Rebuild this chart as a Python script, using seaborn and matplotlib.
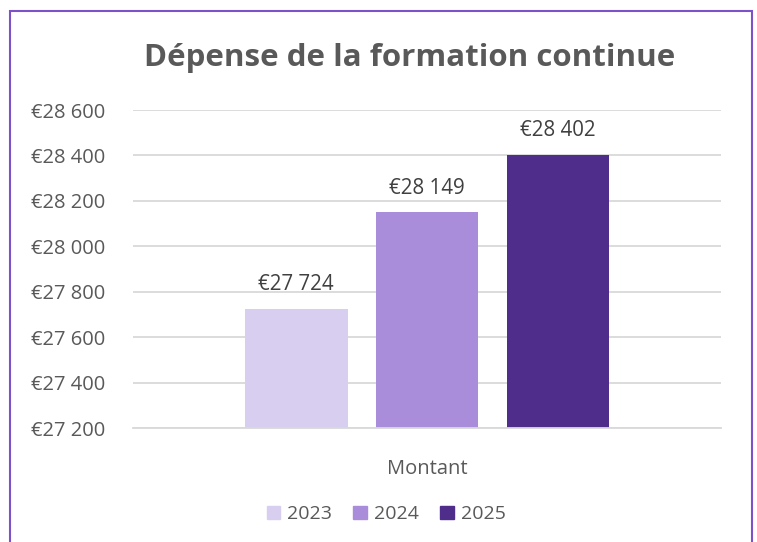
import pandas as pd
import numpy as np
import matplotlib
matplotlib.use('Agg')
import matplotlib.pyplot as plt
import seaborn as sns
from matplotlib.patches import Rectangle

# data
categories = ['Montant']
years = ['2023', '2024', '2025']
amounts = [27724, 28149, 28402]
bar_colors = ['#D8CEEF', '#A98DDA', '#4F2D8B']
yticks = [27200, 27400, 27600, 27800, 28000, 28200, 28400, 28600]

df = pd.DataFrame({'cat': categories * len(years), 'year': years, 'value': amounts})

sns.set_theme(style='white')
plt.rcParams['font.family'] = ['Open Sans', 'DejaVu Sans']
txt = '#595959'

def euro(v):
    return '€' + f'{v:,.0f}'.replace(',', ' ')

fig = plt.figure(figsize=(7.57, 5.42), dpi=100)
ax = fig.add_axes([0.1757, 0.2103, 0.7768, 0.5867])

sns.barplot(data=df, x='cat', y='value', hue='year', palette=bar_colors,
            width=0.668, gap=0.214, ax=ax, legend=True, saturation=1,
            linewidth=0, edgecolor='none')

ax.set_ylim(27200, 28600)
ax.set_xlim(-0.5, 0.5)
ax.set_yticks(yticks)
ax.set_yticklabels([euro(v) for v in yticks], color=txt, fontsize=14.5)
ax.yaxis.grid(True, color='#D9D9D9', linewidth=1.3)
ax.set_axisbelow(True)
for s in ['top', 'right', 'left']:
    ax.spines[s].set_visible(False)
ax.spines['bottom'].set_color('#D9D9D9')
ax.spines['bottom'].set_linewidth(1.3)
ax.tick_params(axis='y', length=0, pad=20)
ax.tick_params(axis='x', which='major', length=0, pad=22, labelsize=14.5, labelcolor=txt)
ax.set_xticks([-0.5, 0.5], minor=True)
ax.tick_params(axis='x', which='minor', length=7, color='#D9D9D9', width=1.3)
ax.set_xlabel('')
ax.set_ylabel('')

for cont in ax.containers:
    ax.bar_label(cont, labels=[euro(v) for v in cont.datavalues], padding=10,
                 fontsize=14.8, color='#404040')

fig.suptitle('Dépense de la formation continue', x=0.5405, y=0.893, va='center',
             fontsize=22.5, fontweight='bold', color=txt)

leg = ax.get_legend()
leg.remove()
handles = [Rectangle((0, 0), 1, 1, color=c) for c in bar_colors]
fig.legend(handles, years, loc='center', bbox_to_anchor=(0.51, 0.051), ncol=3,
           frameon=False, fontsize=14, handlelength=0.7, handleheight=0.7,
           handletextpad=0.35, columnspacing=1.1, labelcolor=txt)

fig.add_artist(Rectangle((10 / 757, -0.2), 742 / 757, 1.2 - 11 / 542,
                         transform=fig.transFigure, fill=False,
                         edgecolor='#7B52C7', linewidth=1.5, clip_on=False))

fig.savefig('out.png', dpi=100)
